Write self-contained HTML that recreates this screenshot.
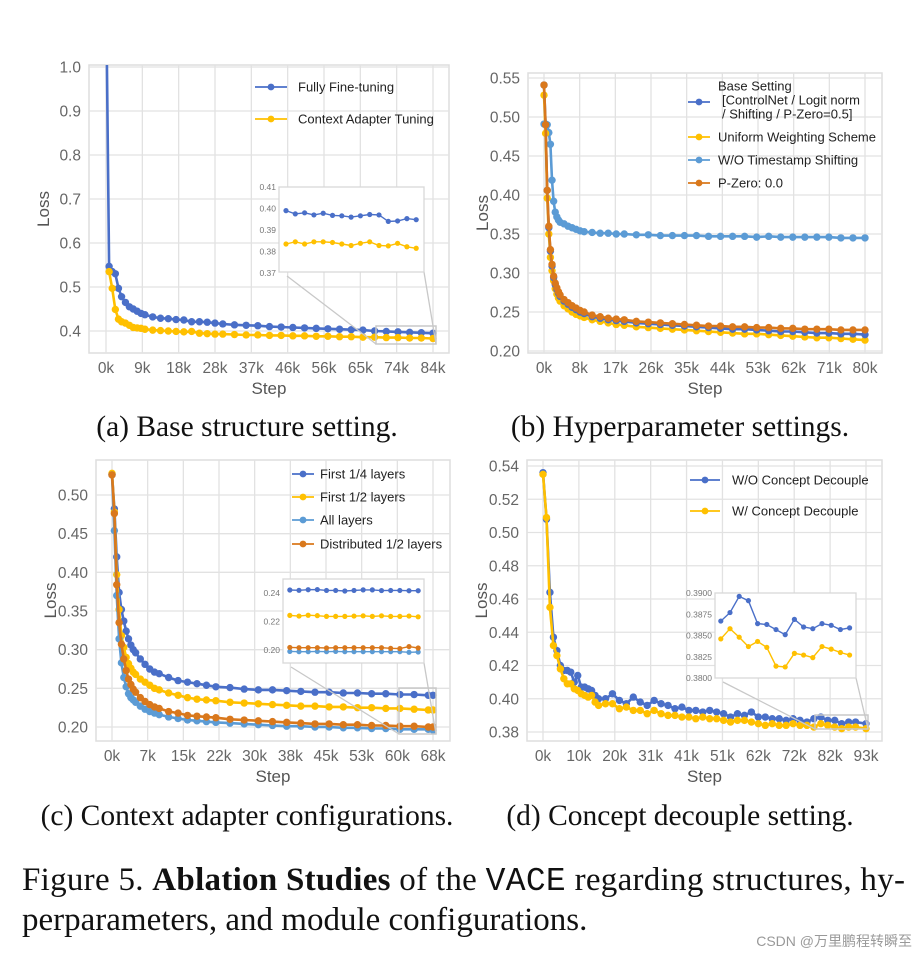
<!DOCTYPE html>
<html><head><meta charset="utf-8"><style>
body{margin:0;background:#fff;width:919px;height:955px;overflow:hidden}
svg{display:block}
text{font-family:"Liberation Sans",sans-serif}
.serif{font-family:"Liberation Serif",serif}
</style></head><body>
<svg id="fig" width="919" height="955" viewBox="0 0 919 955" xmlns="http://www.w3.org/2000/svg">
<text class="serif" x="247" y="436" font-size="29.5" text-anchor="middle" fill="#111">(a) Base structure setting.</text>
<text class="serif" x="680" y="436" font-size="29.5" text-anchor="middle" fill="#111">(b) Hyperparameter settings.</text>
<text class="serif" x="247" y="825" font-size="29.5" text-anchor="middle" fill="#111">(c) Context adapter configurations.</text>
<text class="serif" x="680" y="825" font-size="29.5" text-anchor="middle" fill="#111">(d) Concept decouple setting.</text>
<text class="serif" x="22" y="890" font-size="33" fill="#111" textLength="883" lengthAdjust="spacing">Figure 5. <tspan font-weight="bold">Ablation Studies</tspan> of the <tspan font-family="Liberation Mono, monospace">VACE</tspan> regarding structures, hy-</text>
<text class="serif" x="22" y="930" font-size="33" fill="#111">perparameters, and module configurations.</text>
<text x="912" y="946" font-size="14" text-anchor="end" fill="#999" font-family="Liberation Sans, Noto Sans CJK SC, sans-serif">CSDN @万里鹏程转瞬至</text>
</svg>
<script>
// ---------- data ----------
const aSteps=[0,0.8,1.6,2.4,3.2,4,5,6,7,8,9,10,12,14,16,18,20,22,24,26,28,30,33,36,39,42,45,48,51,54,57,60,63,66,69,72,75,78,81,84];
const aFull=[1.2,0.547,0.535,0.530,0.497,0.478,0.465,0.455,0.450,0.445,0.440,0.437,0.432,0.429,0.428,0.426,0.425,0.421,0.421,0.420,0.418,0.416,0.414,0.413,0.412,0.410,0.409,0.408,0.407,0.406,0.405,0.404,0.403,0.402,0.400,0.399,0.398,0.397,0.396,0.395];
const aAdapter=[0.535,0.497,0.449,0.427,0.421,0.418,0.413,0.408,0.407,0.406,0.404,0.402,0.401,0.400,0.399,0.398,0.399,0.395,0.394,0.393,0.393,0.392,0.391,0.391,0.390,0.390,0.389,0.389,0.388,0.388,0.387,0.387,0.386,0.386,0.385,0.385,0.384,0.384,0.383,0.382];
const aInsetSteps=[70,71,72,73,74,75,76,77,78,79,80,81,82,83,84];
const aInsetFull=[0.3990,0.3975,0.3980,0.3970,0.3978,0.3968,0.3966,0.3960,0.3966,0.3972,0.3970,0.3940,0.3942,0.3953,0.3948];
const aInsetAdapter=[0.3835,0.3845,0.3835,0.3845,0.3845,0.3842,0.3835,0.3828,0.3838,0.3845,0.3828,0.3826,0.3838,0.3822,0.3815];
const aXLabels=["0k","9k","18k","28k","37k","46k","56k","65k","74k","84k"];
const aYTicks=[0.4,0.5,0.6,0.7,0.8,0.9,1.0];

const bSteps=[0,0.4,0.8,1.2,1.6,2,2.4,2.8,3.2,3.6,4,5,6,7,8,9,10,12,14,16,18,20,23,26,29,32,35,38,41,44,47,50,53,56,59,62,65,68,71,74,77,80];
const bBase=[0.541,0.490,0.406,0.358,0.328,0.309,0.294,0.285,0.279,0.274,0.270,0.264,0.260,0.256,0.253,0.250,0.248,0.244,0.242,0.240,0.239,0.238,0.236,0.235,0.234,0.233,0.232,0.231,0.230,0.229,0.228,0.228,0.227,0.226,0.225,0.225,0.224,0.223,0.223,0.222,0.222,0.221];
const bUniform=[0.528,0.479,0.396,0.350,0.320,0.303,0.290,0.280,0.273,0.268,0.264,0.258,0.254,0.250,0.247,0.245,0.243,0.240,0.238,0.236,0.234,0.233,0.231,0.230,0.229,0.228,0.227,0.226,0.225,0.224,0.223,0.222,0.222,0.221,0.220,0.219,0.218,0.217,0.217,0.216,0.215,0.214];
const bNoShift=[0.491,0.491,0.490,0.480,0.465,0.419,0.392,0.378,0.372,0.368,0.365,0.363,0.360,0.358,0.356,0.354,0.353,0.352,0.351,0.351,0.350,0.350,0.349,0.349,0.348,0.348,0.348,0.348,0.347,0.347,0.347,0.347,0.346,0.347,0.346,0.346,0.346,0.346,0.346,0.345,0.345,0.345];
const bPZero=[0.541,0.490,0.406,0.360,0.330,0.311,0.296,0.287,0.281,0.276,0.272,0.266,0.262,0.258,0.255,0.252,0.250,0.246,0.244,0.242,0.241,0.240,0.238,0.237,0.236,0.235,0.234,0.233,0.232,0.232,0.231,0.231,0.230,0.230,0.229,0.229,0.228,0.228,0.228,0.227,0.227,0.227];
const bXLabels=["0k","8k","17k","26k","35k","44k","53k","62k","71k","80k"];
const bYTicks=[0.20,0.25,0.30,0.35,0.40,0.45,0.50,0.55];

const cSteps=[0,0.5,1,1.5,2,2.5,3,3.5,4,4.5,5,6,7,8,9,10,12,14,16,18,20,22,25,28,31,34,37,40,43,46,49,52,55,58,61,64,67,68];
const cQuarter=[0.527,0.482,0.420,0.374,0.352,0.337,0.324,0.314,0.306,0.300,0.296,0.288,0.281,0.275,0.271,0.269,0.264,0.260,0.258,0.256,0.254,0.252,0.251,0.249,0.248,0.248,0.247,0.246,0.245,0.245,0.244,0.244,0.243,0.243,0.242,0.242,0.241,0.241];
const cHalf=[0.528,0.478,0.397,0.352,0.318,0.303,0.290,0.282,0.276,0.271,0.268,0.262,0.258,0.254,0.250,0.248,0.244,0.241,0.238,0.236,0.235,0.234,0.232,0.231,0.230,0.229,0.228,0.227,0.227,0.226,0.226,0.225,0.225,0.224,0.224,0.223,0.222,0.222];
const cAll=[0.526,0.454,0.370,0.314,0.283,0.264,0.252,0.243,0.238,0.235,0.232,0.227,0.223,0.220,0.218,0.216,0.213,0.211,0.209,0.208,0.207,0.206,0.205,0.204,0.203,0.202,0.201,0.201,0.200,0.200,0.199,0.199,0.198,0.198,0.197,0.197,0.197,0.196];
const cDist=[0.526,0.476,0.384,0.335,0.307,0.288,0.273,0.262,0.255,0.249,0.245,0.238,0.233,0.229,0.226,0.224,0.220,0.218,0.215,0.214,0.213,0.212,0.210,0.209,0.208,0.207,0.206,0.205,0.204,0.204,0.203,0.203,0.202,0.202,0.201,0.201,0.200,0.200];
const cInsetSteps=[61.5,62,62.5,63,63.5,64,64.5,65,65.5,66,66.5,67,67.5,68,68.5];
const cInsetQuarter=[0.2421,0.2419,0.2423,0.2424,0.2418,0.2418,0.2414,0.2418,0.2422,0.2422,0.2417,0.2418,0.2418,0.2416,0.2416];
const cInsetHalf=[0.2243,0.2238,0.2244,0.2241,0.2236,0.2236,0.2236,0.2238,0.2240,0.2236,0.2240,0.2236,0.2236,0.2238,0.2233];
const cInsetDist=[0.2018,0.2016,0.2016,0.2016,0.2014,0.2016,0.2016,0.2016,0.2016,0.2016,0.2016,0.2012,0.2010,0.2024,0.2014];
const cInsetAll=[0.1990,0.1988,0.1988,0.1990,0.1988,0.1990,0.1988,0.1988,0.1988,0.1988,0.1988,0.1988,0.1988,0.1984,0.1986];
const cXLabels=["0k","7k","15k","22k","30k","38k","45k","53k","60k","68k"];
const cYTicks=[0.20,0.25,0.30,0.35,0.40,0.45,0.50];

const dSteps=[0,1,2,3,4,5,6,7,8,9,10,11,12,13,14,15,16,18,20,22,24,26,28,30,32,34,36,38,40,42,44,46,48,50,52,54,56,58,60,62,64,66,68,70,72,74,76,78,80,82,84,86,88,90,93];
const dWithout=[0.536,0.508,0.464,0.437,0.429,0.420,0.417,0.417,0.416,0.410,0.414,0.407,0.407,0.406,0.405,0.402,0.400,0.400,0.403,0.399,0.397,0.401,0.398,0.396,0.399,0.397,0.396,0.394,0.395,0.393,0.393,0.392,0.393,0.392,0.391,0.389,0.391,0.390,0.392,0.389,0.389,0.388,0.388,0.387,0.388,0.387,0.386,0.388,0.389,0.387,0.387,0.385,0.386,0.386,0.385];
const dWith=[0.535,0.509,0.455,0.432,0.426,0.418,0.412,0.409,0.409,0.406,0.405,0.403,0.402,0.401,0.402,0.398,0.396,0.397,0.397,0.394,0.395,0.393,0.393,0.391,0.393,0.391,0.390,0.390,0.389,0.389,0.388,0.389,0.388,0.388,0.387,0.386,0.387,0.387,0.386,0.385,0.384,0.385,0.384,0.384,0.385,0.384,0.384,0.383,0.385,0.384,0.383,0.382,0.383,0.383,0.382];
const dInsetSteps=[79,80,81,82,83,84,85,86,87,88,89,90,91,92,93];
const dInsetWithout=[0.3867,0.3877,0.3896,0.3891,0.3864,0.3863,0.3857,0.3851,0.3869,0.3860,0.3858,0.3864,0.3862,0.3857,0.3859];
const dInsetWith=[0.3846,0.3858,0.3848,0.3837,0.3843,0.3836,0.3814,0.3813,0.3829,0.3827,0.3824,0.3837,0.3834,0.3830,0.3827];
const dXLabels=["0k","10k","20k","31k","41k","51k","62k","72k","82k","93k"];
const dYTicks=[0.38,0.40,0.42,0.44,0.46,0.48,0.50,0.52,0.54];

// ---------- rendering ----------
const NS="http://www.w3.org/2000/svg";
const svg=document.getElementById('fig');
const BLUE="#4a6fc8",YEL="#ffc000",LBLUE="#5b9bd5",ORG="#d9781c";
function el(tag,attrs,parent){const e=document.createElementNS(NS,tag);for(const k in attrs)e.setAttribute(k,attrs[k]);(parent||svg).appendChild(e);return e;}
let clipN=0;
function chart(key,o){
  const g=el('g',{});
  
  
  const sx=v=>o.px0+(v-o.x0)/(o.x1-o.x0)*(o.px1-o.px0);
  const sy=v=>o.py0+(v-o.y0)/(o.y1-o.y0)*(o.py1-o.py0);
  el('rect',{x:o.L,y:o.T,width:o.R-o.L,height:o.B-o.T,fill:'#fff',stroke:'#dedede','stroke-width':1.5},g);
  o.yTicks.forEach(t=>{
    const y=sy(t);
    const ln=el('line',{x1:o.L,x2:o.R,y1:y,y2:y,stroke:'#e2e2e2','stroke-width':1.3},g);
    
    
    const tx=el('text',{x:o.L-8,y:y+5.5,'font-size':15.5,'text-anchor':'end',fill:'#666'},g);
    tx.textContent=t.toFixed(o.yDec);
    
    
  });
  o.xLabels.forEach((lab,i)=>{
    const x=sx(o.x0+i*(o.x1-o.x0)/(o.xLabels.length-1));
    const ln=el('line',{x1:x,x2:x,y1:o.T,y2:o.B,stroke:'#e2e2e2','stroke-width':1.3},g);
    
    
    const tx=el('text',{x:x,y:o.B+20,'font-size':15.5,'text-anchor':'middle',fill:'#666'},g);
    tx.textContent=lab;
    
    
  });
  const yl=el('text',{x:0,y:0,'font-size':17,'text-anchor':'middle',fill:'#555',transform:`translate(${o.L-40},${(o.T+o.B)/2}) rotate(-90)`},g);
  yl.textContent='Loss';
  
  
  const xl=el('text',{x:(o.L+o.R)/2,y:o.B+41,'font-size':17,'text-anchor':'middle',fill:'#555'},g);
  xl.textContent='Step';
  
  
  const cid='clip'+(clipN++);
  const cp=el('clipPath',{id:cid},g);el('rect',{x:o.L,y:o.T,width:o.R-o.L,height:o.B-o.T},cp);
  const sg=el('g',{'clip-path':`url(#${cid})`},g);
  o.series.forEach(s=>{
    const pts=s.vals.map((v,i)=>sx(s.steps[i]).toFixed(1)+','+sy(v).toFixed(1)).join(' ');
    const pl=el('polyline',{points:pts,fill:'none',stroke:s.color,'stroke-width':2.6},sg);
    
    
    s.vals.forEach((v,i)=>{
      const c=el('circle',{cx:sx(s.steps[i]),cy:sy(v),r:3.7,fill:s.color},sg);
      
      
    });
  });
  if(o.inset){
    const z=o.zoom,I=o.inset;
    const zr=el('rect',{x:z[0],y:z[1],width:z[2]-z[0],height:z[3]-z[1],fill:'none',stroke:'#c8c8c8','stroke-width':1.5},g);
    
    
    el('line',{x1:I.L+8,y1:I.B+4,x2:z[0],y2:z[3],stroke:'#c8c8c8','stroke-width':1.3},g);
    el('line',{x1:I.R,y1:I.B,x2:z[2],y2:z[3],stroke:'#c8c8c8','stroke-width':1.3},g);
    const ig=el('g',{},g);
    
    
    el('rect',{x:I.L,y:I.T,width:I.R-I.L,height:I.B-I.T,fill:'#fff',stroke:'#d8d8d8','stroke-width':1.3},ig);
    const ix=v=>I.px0+(v-I.x0)/(I.x1-I.x0)*(I.px1-I.px0);
    const iy=v=>I.py0+(v-I.y0)/(I.y1-I.y0)*(I.py1-I.py0);
    I.yTicks.forEach(t=>{const tx=el('text',{x:I.L-3,y:iy(t)+3,'font-size':8.5,'text-anchor':'end',fill:'#777'},ig);tx.textContent=t.toFixed(I.yDec);
      
      });
    I.xTicks.forEach(t=>{const tx=el('text',{x:ix(t),y:I.B+10,'font-size':8.5,'text-anchor':'middle',fill:'#777'},ig);tx.textContent=String(t);
      
      });
    I.series.forEach(s=>{
      const pts=s.vals.map((v,i)=>ix(s.steps[i]).toFixed(1)+','+iy(v).toFixed(1)).join(' ');
      const pl=el('polyline',{points:pts,fill:'none',stroke:s.color,'stroke-width':1.4},ig);
      
      
      s.vals.forEach((v,i)=>{const c=el('circle',{cx:ix(s.steps[i]),cy:iy(v),r:2.6,fill:s.color},ig);
        
        });
    });
  }
  o.legend.forEach(l=>{
    const lg=el('g',{},g);
    
    
    el('line',{x1:o.lx,x2:o.lx+o.lw,y1:l.my,y2:l.my,stroke:l.color,'stroke-width':1.8},lg);
    el('circle',{cx:o.lx+o.lw/2,cy:l.my,r:3.4,fill:l.color},lg);
    l.lines.forEach((t,j)=>{const ind=t.startsWith(' ')?4:0;const tx=el('text',{x:o.tx+ind,y:l.ty+j*14+4.5,'font-size':13,fill:'#222'},lg);tx.textContent=t.trim();});
  });
}

chart('a',{L:89,R:449,T:65,B:353,x0:0,x1:84,px0:106,px1:433,y0:0.4,y1:1.0,py0:331,py1:67,yTicks:aYTicks,yDec:1,xLabels:aXLabels,
  series:[{name:'fully-finetuning',steps:aSteps,vals:aFull,color:BLUE},{name:'context-adapter',steps:aSteps.slice(1),vals:aAdapter,color:YEL}],
  zoom:[376,326,436,344],
  inset:{L:279,R:424,T:187,B:272,x0:70,x1:80,px0:286,px1:379,y0:0.37,y1:0.41,py0:273,py1:187,yTicks:[0.37,0.38,0.39,0.40,0.41],yDec:2,xTicks:[70000,75000,80000],
    series:[{name:'fully-finetuning',steps:aInsetSteps,vals:aInsetFull,color:BLUE},{name:'context-adapter',steps:aInsetSteps,vals:aInsetAdapter,color:YEL}]},
  lx:255,lw:32,tx:298,legend:[{color:BLUE,my:87,ty:87,lines:['Fully Fine-tuning']},{color:YEL,my:119,ty:119,lines:['Context Adapter Tuning']}]});

chart('b',{L:528,R:882,T:73,B:353,x0:0,x1:80,px0:544,px1:865,y0:0.20,y1:0.55,py0:351,py1:78,yTicks:bYTicks,yDec:2,xLabels:bXLabels,
  series:[{name:'w-o-timestamp-shifting',steps:bSteps,vals:bNoShift,color:LBLUE},{name:'uniform-weighting',steps:bSteps,vals:bUniform,color:YEL},{name:'base-setting',steps:bSteps,vals:bBase,color:BLUE},{name:'p-zero',steps:bSteps,vals:bPZero,color:ORG}],
  lx:688,lw:22,tx:718,legend:[{color:BLUE,my:102,ty:86,lines:['Base Setting',' [ControlNet / Logit norm',' / Shifting / P-Zero=0.5]']},{color:YEL,my:137,ty:137,lines:['Uniform Weighting Scheme']},{color:LBLUE,my:160,ty:160,lines:['W/O Timestamp Shifting']},{color:ORG,my:183,ty:183,lines:['P-Zero: 0.0']}]});

chart('c',{L:96,R:450,T:460,B:741,x0:0,x1:68,px0:112,px1:433,y0:0.20,y1:0.50,py0:727,py1:495,yTicks:cYTicks,yDec:2,xLabels:cXLabels,
  series:[{name:'first-quarter',steps:cSteps,vals:cQuarter,color:BLUE},{name:'first-half',steps:cSteps,vals:cHalf,color:YEL},{name:'all-layers',steps:cSteps,vals:cAll,color:LBLUE},{name:'distributed-half',steps:cSteps,vals:cDist,color:ORG}],
  zoom:[399,688,436,734],
  inset:{L:283,R:424,T:579,B:663,x0:62,x1:68,px0:299,px1:409,y0:0.20,y1:0.24,py0:650,py1:593,yTicks:[0.20,0.22,0.24],yDec:2,xTicks:[62000,64000,66000,68000],
    series:[{name:'first-quarter',steps:cInsetSteps,vals:cInsetQuarter,color:BLUE},{name:'first-half',steps:cInsetSteps,vals:cInsetHalf,color:YEL},{name:'all-layers',steps:cInsetSteps,vals:cInsetAll,color:LBLUE},{name:'distributed-half',steps:cInsetSteps,vals:cInsetDist,color:ORG}]},
  lx:292,lw:22,tx:320,legend:[{color:BLUE,my:474,ty:474,lines:['First 1/4 layers']},{color:YEL,my:497,ty:497,lines:['First 1/2 layers']},{color:LBLUE,my:520,ty:520,lines:['All layers']},{color:ORG,my:544,ty:544,lines:['Distributed 1/2 layers']}]});

chart('d',{L:527,R:882,T:460,B:741,x0:0,x1:93,px0:543,px1:866,y0:0.38,y1:0.54,py0:732,py1:466,yTicks:dYTicks,yDec:2,xLabels:dXLabels,
  series:[{name:'without-decouple',steps:dSteps,vals:dWithout,color:BLUE},{name:'with-decouple',steps:dSteps,vals:dWith,color:YEL}],
  zoom:[815,715,868,729],
  inset:{L:715,R:856,T:593,B:678,x0:80,x1:90,px0:730,px1:822,y0:0.38,y1:0.39,py0:678,py1:593,yTicks:[0.3800,0.3825,0.3850,0.3875,0.3900],yDec:4,xTicks:[80000,85000,90000],
    series:[{name:'without-decouple',steps:dInsetSteps,vals:dInsetWithout,color:BLUE},{name:'with-decouple',steps:dInsetSteps,vals:dInsetWith,color:YEL}]},
  lx:690,lw:30,tx:732,legend:[{color:BLUE,my:480,ty:480,lines:['W/O Concept Decouple']},{color:YEL,my:511,ty:511,lines:['W/ Concept Decouple']}]});
</script>
</body></html>
